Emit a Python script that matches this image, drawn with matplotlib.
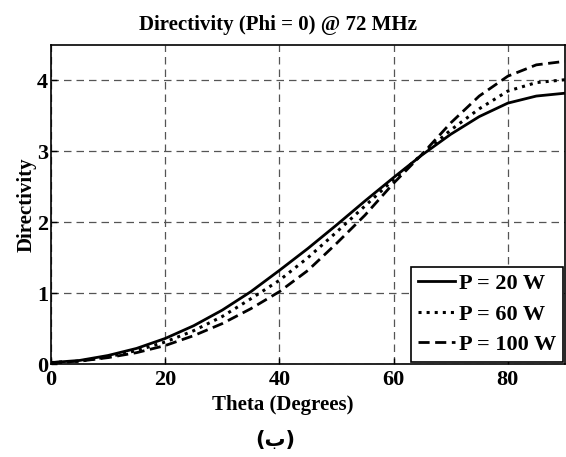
import numpy as np
import matplotlib
matplotlib.use('Agg')
import matplotlib.pyplot as plt

# Directivity vs theta (phi = 0) at 72 MHz
theta = [0, 5, 10, 15, 20, 25, 30, 35, 40, 45, 50, 55, 60, 65, 70, 75, 80, 85, 90]
d_20w = [0.02, 0.05, 0.12, 0.22, 0.36, 0.54, 0.76, 1.02, 1.32, 1.63, 1.96, 2.30, 2.63, 2.95, 3.24, 3.49, 3.68, 3.78, 3.82]
d_60w = [0.02, 0.04, 0.10, 0.19, 0.31, 0.47, 0.67, 0.92, 1.18, 1.50, 1.86, 2.23, 2.60, 2.96, 3.30, 3.60, 3.85, 3.97, 4.01]
d_100w = [0.02, 0.04, 0.09, 0.16, 0.26, 0.40, 0.57, 0.78, 1.02, 1.32, 1.70, 2.10, 2.55, 2.96, 3.40, 3.78, 4.06, 4.22, 4.27]
labels = ['P = 20 W', 'P = 60 W', 'P = 100 W']

plt.rcParams['font.family'] = ['Liberation Serif', 'DejaVu Sans']
plt.rcParams['font.weight'] = 'bold'

fig = plt.figure(figsize=(5.66, 4.57), dpi=100)
ax = fig.add_axes([0.090, 0.2035, 0.908, 0.698])

ax.plot(theta, d_20w, 'k-', lw=2, label=labels[0])
ax.plot(theta, d_60w, 'k:', lw=2.2, label=labels[1])
ax.plot(theta, d_100w, 'k--', lw=2, dashes=(4, 2), label=labels[2])

ax.set_xlim(0, 90)
ax.set_ylim(0, 4.5)
ax.set_xticks([0, 20, 40, 60, 80])
ax.set_yticks([0, 1, 2, 3, 4])
ax.tick_params(direction='in', labelsize=16, length=4, width=1)
ax.tick_params(axis='x', pad=4)
ax.tick_params(axis='y', pad=2)
for lab in ax.get_xticklabels() + ax.get_yticklabels():
    lab.set_fontweight('bold')
ax.grid(True, color='#555555', linestyle=(0, (6, 4)), linewidth=0.9)
for s in ax.spines.values():
    s.set_linewidth(1.2)

fig.text(0.491, 0.945, 'Directivity (Phi = 0) @ 72 MHz', fontsize=15, fontweight='bold',
         ha='center', va='center')
ax.set_xlabel('Theta (Degrees)', fontsize=15, fontweight='bold')
ax.xaxis.set_label_coords(0.452, -0.097)
ax.set_ylabel('Directivity', fontsize=15, fontweight='bold', labelpad=0)

leg = ax.legend(loc='lower right', handlelength=1.7, handletextpad=0.15,
                borderpad=0.3, labelspacing=0.45, borderaxespad=0.1, fancybox=False,
                framealpha=1, edgecolor='black', prop={'weight': 'bold', 'size': 16})
leg.get_frame().set_linewidth(1.2)

fig.text(0.486, 0.037, '(ب)', fontsize=15, fontweight='bold', ha='center', va='center',
         family=['DejaVu Sans'])

plt.savefig('out.png', dpi=100)
